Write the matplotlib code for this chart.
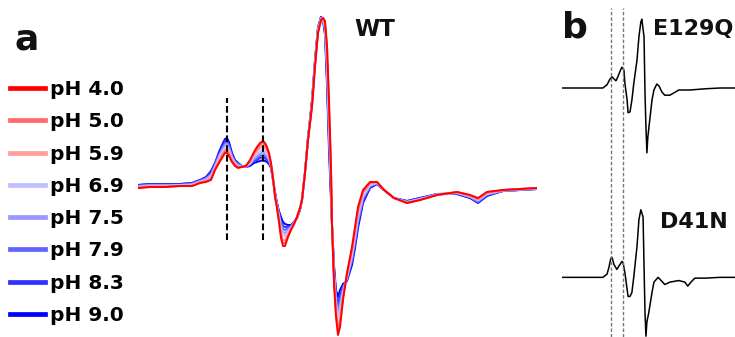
import matplotlib
matplotlib.use('Agg')
import matplotlib.pyplot as plt

# ─────────────────────────────────────────────
# Data  (field in a.u., EPR signal in a.u.)
# ─────────────────────────────────────────────
FIELD_WT = [0, 12, 27, 42, 54, 62, 68, 73, 77, 81, 84, 87, 89, 91, 94, 97, 100, 104, 108, 112,
            116, 119, 122, 125, 127, 129, 131, 133, 135, 137, 139, 141, 143, 145, 147, 150, 153, 156, 159, 162,
            164, 167, 170, 174, 177, 180, 183, 185, 187, 189, 191, 193, 194, 196, 198, 200, 202, 205, 209, 214,
            217, 220, 225, 232, 239, 246, 256, 269, 282, 299, 319, 332, 340, 349, 365, 382, 399]

PH_LABELS = ['pH 4.0', 'pH 5.0', 'pH 5.9', 'pH 6.9', 'pH 7.5', 'pH 7.9', 'pH 8.3', 'pH 9.0']
PH_COLORS = ['#ff0000', '#ff6a6a', '#ff9e9e', '#c0c0ff', '#9898ff', '#6262ff', '#3030ff', '#0000ff']

wt_ph40 = [0, 1, 1, 2, 2, 5, 6, 8, 18, 25, 30, 35, 35, 32, 26, 22, 20, 21, 22, 28,
           36, 41, 45, 47, 45, 41, 35, 25, 10, -9, -20, -34, -50, -58, -58, -49, -42, -36, -29, -20,
           -12, 15, 48, 81, 121, 155, 168, 170, 167, 143, 88, 21, -37, -95, -129, -147, -139, -112, -85, -59,
           -39, -19, -2, 6, 6, -2, -10, -15, -12, -7, -4, -7, -10, -4, -2, -1, 0]
wt_ph50 = [0, 1, 1, 2, 2, 5, 7, 9, 19, 26, 32, 37, 37, 34, 27, 23, 21, 21, 22, 27,
           35, 39, 43, 45, 43, 39, 34, 24, 10, -8, -19, -33, -47, -55, -55, -48, -41, -36, -29, -20,
           -12, 15, 48, 82, 122, 156, 168, 170, 165, 138, 82, 17, -37, -93, -126, -142, -135, -110, -86, -61,
           -42, -22, -4, 5, 6, -2, -10, -15, -12, -7, -4, -7, -11, -4, -2, -1, 0]
wt_ph59 = [1, 2, 2, 2, 3, 6, 7, 10, 20, 28, 33, 38, 39, 36, 28, 24, 21, 21, 22, 26,
           33, 37, 40, 42, 40, 37, 32, 24, 10, -8, -19, -31, -45, -52, -52, -46, -41, -36, -29, -20,
           -12, 15, 48, 83, 123, 156, 169, 170, 164, 133, 76, 13, -37, -90, -122, -138, -130, -108, -87, -64,
           -44, -24, -5, 5, 6, -2, -10, -15, -12, -7, -4, -8, -11, -5, -2, -1, 0]
wt_ph69 = [1, 2, 2, 3, 3, 6, 8, 12, 21, 30, 36, 41, 42, 38, 30, 25, 22, 21, 22, 25,
           31, 34, 37, 38, 37, 34, 30, 23, 9, -7, -18, -29, -41, -47, -48, -44, -40, -35, -29, -21,
           -12, 15, 49, 84, 124, 158, 169, 169, 161, 125, 66, 6, -37, -87, -117, -130, -122, -105, -89, -67,
           -48, -28, -8, 3, 5, -2, -10, -14, -11, -7, -5, -8, -12, -6, -2, -1, 0]
wt_ph75 = [2, 3, 3, 3, 4, 7, 9, 13, 22, 32, 38, 43, 44, 40, 31, 26, 23, 22, 21, 24,
           29, 32, 34, 36, 34, 32, 28, 22, 9, -6, -17, -27, -37, -44, -45, -42, -39, -35, -30, -21,
           -12, 16, 49, 85, 125, 159, 170, 169, 159, 119, 58, 1, -37, -84, -113, -124, -117, -102, -90, -70,
           -52, -32, -10, 2, 5, -2, -10, -14, -11, -6, -5, -9, -13, -6, -3, -2, -1]
wt_ph79 = [2, 3, 3, 3, 4, 7, 10, 14, 23, 33, 39, 45, 46, 42, 32, 26, 24, 22, 21, 24,
           28, 30, 32, 33, 32, 30, 27, 21, 9, -5, -16, -26, -35, -41, -42, -40, -38, -35, -30, -21,
           -12, 16, 49, 86, 126, 159, 170, 169, 157, 114, 52, -3, -37, -82, -110, -120, -112, -100, -91, -72,
           -54, -34, -11, 2, 5, -2, -10, -14, -11, -6, -5, -9, -14, -7, -3, -2, -1]
wt_ph83 = [3, 4, 4, 4, 5, 8, 10, 16, 24, 34, 41, 47, 48, 44, 34, 27, 24, 22, 21, 23,
           27, 28, 30, 31, 30, 28, 26, 21, 8, -5, -16, -25, -32, -38, -39, -39, -38, -34, -30, -22,
           -12, 16, 50, 87, 127, 160, 171, 168, 155, 109, 46, -7, -37, -80, -106, -115, -108, -98, -92, -74,
           -57, -37, -13, 1, 4, -2, -10, -13, -10, -6, -6, -10, -14, -7, -3, -2, -1]
wt_ph90 = [3, 4, 4, 4, 5, 8, 11, 17, 25, 36, 43, 49, 50, 46, 35, 28, 25, 22, 21, 22,
           25, 26, 27, 28, 27, 26, 24, 20, 8, -4, -15, -23, -29, -34, -36, -37, -37, -34, -30, -22,
           -12, 16, 50, 88, 128, 161, 171, 168, 153, 103, 38, -12, -37, -77, -102, -109, -102, -96, -93, -77,
           -60, -40, -15, 0, 4, -2, -10, -13, -10, -6, -6, -10, -15, -8, -3, -2, -1]
WT_SPECTRA = [wt_ph40, wt_ph50, wt_ph59, wt_ph69, wt_ph75, wt_ph79, wt_ph83, wt_ph90]

# resonance positions marked by dashed lines
MARK_FIELD = [89, 125]

FIELD_E129Q = [-66, -25, 22, 62, 75, 84, 91, 94, 103, 109, 119, 122, 128, 131, 138, 141, 147, 153, 159, 169,
               175, 181, 184, 191, 194, 197, 200, 203, 210, 216, 222, 231, 238, 247, 256, 272, 300, 335, 382, 429,
               476]
E129Q = [0, 0, 0, 0, 8, 22, 28, 25, 18, 28, 48, 52, 45, 12, -30, -62, -60, -30, 12, 70,
         128, 165, 172, 128, -12, -98, -162, -122, -72, -30, -5, 10, 5, -10, -18, -18, -5, -5, -2, 0,
         0]

FIELD_D41N = [-66, -25, 22, 62, 75, 81, 87, 91, 97, 106, 112, 122, 125, 131, 138, 141, 147, 153, 159, 169,
              175, 181, 188, 191, 194, 197, 200, 203, 206, 216, 222, 235, 247, 256, 272, 300, 319, 328, 338, 350,
              382, 429, 476]
D41N = [0, 0, 0, 0, 8, 25, 48, 50, 32, 20, 28, 40, 38, 12, -30, -48, -48, -38, 2, 78,
        145, 170, 152, 28, -88, -148, -112, -100, -88, -38, -12, 0, -10, -18, -12, -8, -12, -22, -12, -2,
        -2, 0, 0]

# ─────────────────────────────────────────────
# Figure
# ─────────────────────────────────────────────
W, H = 735, 337
plt.rcParams['font.family'] = ['DejaVu Sans']
fig = plt.figure(figsize=(W / 100, H / 100), dpi=100)


def px_axes(x0, y0, w, h):
    """axes placed by pixel box (top-left origin)"""
    ax = fig.add_axes([x0 / W, 1 - (y0 + h) / H, w / W, h / H])
    ax.axis('off')
    return ax


def px_text(x, y, s, size):
    fig.text(x / W, 1 - y / H, s, fontsize=size, fontweight='bold',
             ha='left', va='baseline', color='#111111')


# --- panel a
ax_a = px_axes(138, 0, 399, 337)
lines = []
for lab, col, spec in zip(PH_LABELS, PH_COLORS, WT_SPECTRA):
    ln, = ax_a.plot(FIELD_WT, spec, color=col, lw=1.4, label=lab)
    lines.append(ln)
# acidic traces on top
for z, ln in enumerate(lines):
    ln.set_zorder(10 - z)
ax_a.vlines(MARK_FIELD, -52, 90, colors='black', lw=1.5, linestyles=(0, (3.2, 1.5)), zorder=20)
ax_a.set_xlim(0, 399)
ax_a.set_ylim(-149, 188)

leg = fig.legend(handles=lines, loc='upper left', bbox_to_anchor=(10 / W, 1 - 80 / H),
                 frameon=False, borderpad=0, borderaxespad=0,
                 handlelength=1.74, handletextpad=0.25, labelspacing=0.66,
                 prop={'weight': 'bold', 'size': 14.5})
for h in leg.legend_handles:
    h.set_linewidth(3.4)

px_text(15, 50, 'a', 26)
px_text(354, 36, 'WT', 16.5)

# --- panel b
ax_b1 = px_axes(562, 0, 173, 168)
ax_b1.plot(FIELD_E129Q, E129Q, color='black', lw=1.1)
ax_b1.set_xlim(-66, 476)
ax_b1.set_ylim(-200, 220)

ax_b2 = px_axes(562, 168, 173, 169)
ax_b2.plot(FIELD_D41N, D41N, color='black', lw=1.1)
ax_b2.set_xlim(-66, 476)
ax_b2.set_ylim(-150, 275)

ax_bl = px_axes(562, 0, 173, 337)
ax_bl.set_xlim(-66, 476)
for x in MARK_FIELD:
    ax_bl.axvline(x, ymin=0, ymax=0.975, color='#777777', lw=1.0, ls=(0, (2.5, 1.5)))

px_text(562, 38, 'b', 26)
px_text(653, 35, 'E129Q', 16)
px_text(660, 228, 'D41N', 16)

fig.savefig('out.png', dpi=100)
